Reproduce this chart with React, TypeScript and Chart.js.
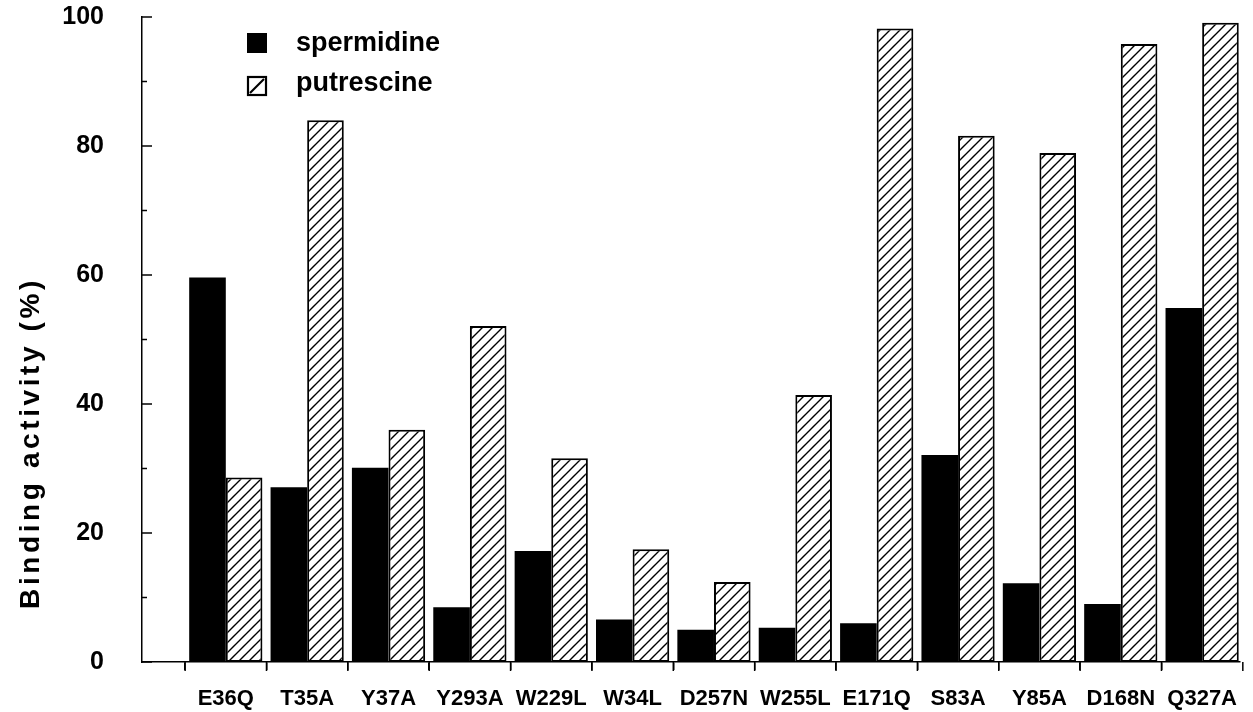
import React, { useEffect, useRef } from "react";
import { Chart, registerables } from "chart.js";

Chart.register(...registerables);

const categories = ["E36Q", "T35A", "Y37A", "Y293A", "W229L", "W34L", "D257N", "W255L", "E171Q", "S83A", "Y85A", "D168N", "Q327A"];
const spermidine = [59.6, 27.1, 30.1, 8.5, 17.2, 6.6, 5.0, 5.3, 6.0, 32.1, 12.2, 9.0, 54.9];
const putrescine = [28.6, 84.0, 36.0, 52.1, 31.6, 17.5, 12.4, 41.4, 98.2, 81.6, 78.9, 95.8, 99.1];
const yTicks = [0, 20, 40, 60, 80, 100];
const seriesNames = ["spermidine", "putrescine"];
const yTitle = "Binding activity (%)";

const FONT = "'Liberation Sans', Arial, Helvetica, sans-serif";

function makeHatch(): CanvasPattern | string {
  const c = document.createElement("canvas");
  const s = 10;
  c.width = s;
  c.height = s;
  const g = c.getContext("2d")!;
  g.fillStyle = "#fff";
  g.fillRect(0, 0, s, s);
  g.strokeStyle = "#000";
  g.lineWidth = 1.4;
  g.beginPath();
  g.moveTo(-2, s + 2);
  g.lineTo(s + 2, -2);
  g.moveTo(-2, 2);
  g.lineTo(2, -2);
  g.moveTo(s - 2, s + 2);
  g.lineTo(s + 2, s - 2);
  g.stroke();
  const p = g.createPattern(c, "repeat");
  return p || "#fff";
}

const decorPlugin = {
  id: "decor",
  afterDraw(chart: any) {
    const ctx = chart.ctx as CanvasRenderingContext2D;
    const y = chart.scales.y;
    const x = chart.scales.x;
    const x0 = y.left + y.width;
    ctx.save();
    ctx.strokeStyle = "#000";
    ctx.lineWidth = 1.5;
    for (let v = 0; v <= 100; v += 10) {
      const py = y.getPixelForValue(v);
      const len = v % 20 === 0 ? 10 : 5;
      ctx.beginPath();
      ctx.moveTo(x0, py);
      ctx.lineTo(x0 + len, py);
      ctx.stroke();
    }
    // x half-step ticks (group boundaries)
    const yb = x.top;
    for (let i = -0.5; i < categories.length; i += 1) {
      const px = x.getPixelForValue(i);
      ctx.beginPath();
      ctx.moveTo(px, yb);
      ctx.lineTo(px, yb + 9);
      ctx.stroke();
    }
    // legend
    const lx = 247;
    const box = 20;
    const rows = [33, 76];
    ctx.fillStyle = "#000";
    ctx.fillRect(lx, rows[0], box, box);
    ctx.fillStyle = "#fff";
    ctx.fillRect(lx, rows[1], box, box);
    ctx.lineWidth = 2.2;
    ctx.strokeRect(lx + 1, rows[1] + 1, box - 2, box - 2);
    ctx.beginPath();
    ctx.moveTo(lx + 3, rows[1] + box - 3);
    ctx.lineTo(lx + box - 3, rows[1] + 3);
    ctx.stroke();
    ctx.fillStyle = "#000";
    ctx.font = `bold 27px ${FONT}`;
    ctx.textBaseline = "middle";
    ctx.textAlign = "left";
    ctx.fillText(seriesNames[0], 296, rows[0] + box / 2 + 1);
    ctx.fillText(seriesNames[1], 296, rows[1] + box / 2 - 2);
    // y title
    ctx.save();
    ctx.translate(31, 443);
    ctx.rotate(-Math.PI / 2);
    ctx.font = `bold 28px ${FONT}`;
    (ctx as any).letterSpacing = "3.6px";
    ctx.textAlign = "center";
    ctx.textBaseline = "middle";
    ctx.fillText(yTitle, 0, 0);
    ctx.restore();
    ctx.restore();
  },
};

export default function App() {
  const ref = useRef<HTMLCanvasElement | null>(null);
  useEffect(() => {
    document.body.style.margin = "0";
    const hatch = makeHatch();
    const chart = new Chart(ref.current!, {
      type: "bar",
      data: {
        datasets: [
          {
            label: seriesNames[0],
            data: spermidine.map((v, i) => ({ x: i, y: v })),
            backgroundColor: "#000",
            borderColor: "#000",
            borderWidth: 0,
          },
          {
            label: seriesNames[1],
            data: putrescine.map((v, i) => ({ x: i, y: v })),
            backgroundColor: hatch as any,
            borderColor: "#000",
            borderWidth: 2,
            borderSkipped: false,
          },
        ],
      },
      options: {
        responsive: false,
        animation: false,
        datasets: { bar: { categoryPercentage: 0.9, barPercentage: 1.0 } },
        layout: { padding: { top: 17, right: 0, left: 0, bottom: 0 } },
        plugins: { legend: { display: false }, tooltip: { enabled: false } },
        scales: {
          x: {
            type: "linear",
            min: -1.03,
            max: 12.46,
            offset: false,
            afterFit: (s: any) => {
              s.height = 50;
              s.paddingTop = 0;
              s.paddingBottom = 0;
            },
            grid: { drawOnChartArea: false, drawTicks: true, tickLength: 8, color: "#000", lineWidth: 1.5 },
            border: { display: true, color: "#000", width: 1.5 },
            ticks: {
              stepSize: 1,
              includeBounds: false,
              autoSkip: false,
              maxTicksLimit: 100,
              maxRotation: 0,
              minRotation: 0,
              padding: 16,
              color: "#000",
              font: { family: FONT, size: 22, weight: "bold" },
              callback: (v: any) => {
                const n = Number(v);
                const r = Math.round(n);
                if (Math.abs(n - r) < 1e-6 && r >= 0 && r < categories.length) return categories[r];
                return "";
              },
            },
          },
          y: {
            min: 0,
            max: 100,
            afterFit: (s: any) => {
              s.width = 142;
              s.paddingTop = 0;
              s.paddingBottom = 0;
            },
            afterBuildTicks: (s: any) => {
              s.ticks = yTicks.map((v) => ({ value: v }));
            },
            grid: { display: false, drawTicks: false },
            border: { display: true, color: "#000", width: 1.5 },
            ticks: {
              padding: 38,
              color: "#000",
              font: { family: FONT, size: 25, weight: "bold" },
            },
          },
        },
      },
      plugins: [decorPlugin],
    });
    return () => chart.destroy();
  }, []);
  return (
    <div style={{ position: "absolute", left: 0, top: 0, width: 1253, height: 712, background: "#fff" }}>
      <canvas ref={ref} width={1253} height={712} style={{ display: "block" }} />
    </div>
  );
}
